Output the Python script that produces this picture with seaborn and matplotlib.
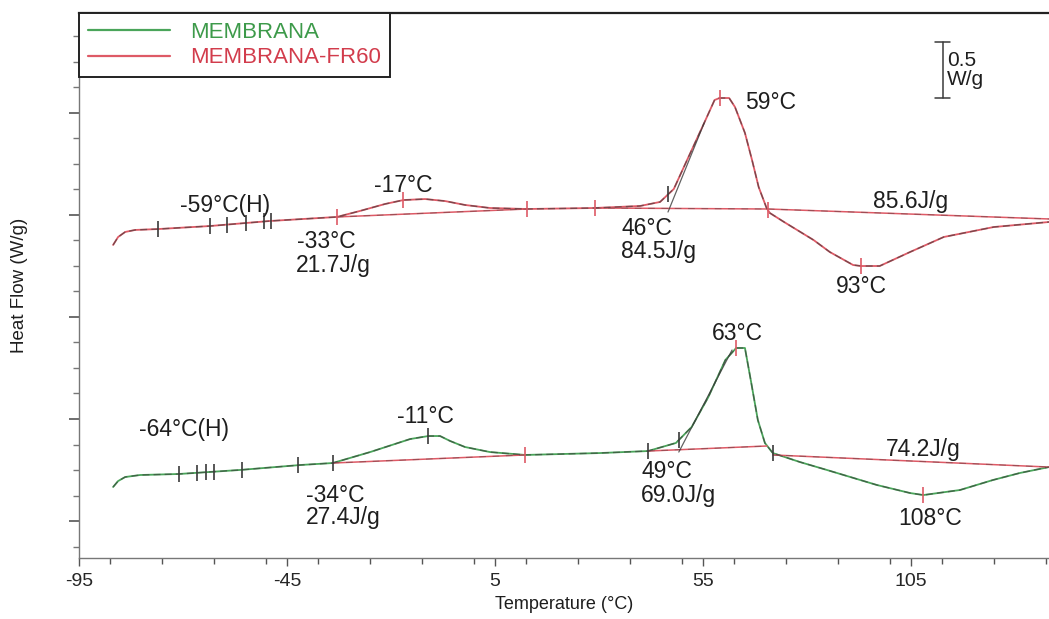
import numpy as np
import pandas as pd
import matplotlib
matplotlib.use("Agg")
import matplotlib.pyplot as plt
from matplotlib.ticker import MultipleLocator, FixedLocator
import seaborn as sns

# ---- DSC thermograms: temperature (°C) and heat flow (W/g, curves offset) ----
fr60_temp = [-86.8, -85.6, -83.9, -81.5, -76.0, -63.5, -49.1, -33.0, -27.5, -21.4,
             -17.0, -11.8, -7.0, -2.2, 3.8, 12.7, 29.0, 39.9, 44.7, 48.0,
             51.2, 55.3, 57.8, 59.0, 61.3, 62.7, 65.1, 66.8, 68.4, 70.3,
             71.1, 74.5, 81.6, 85.5, 91.1, 93.0, 97.5, 104.8, 112.9, 124.9, 138.2]
fr60_flow = [1.554, 1.625, 1.670, 1.688, 1.696, 1.723, 1.768, 1.804, 1.857, 1.920,
             1.955, 1.964, 1.946, 1.911, 1.884, 1.875, 1.884, 1.902, 1.938, 2.054,
             2.313, 2.643, 2.848, 2.866, 2.866, 2.786, 2.554, 2.313, 2.071, 1.884,
             1.839, 1.759, 1.598, 1.491, 1.375, 1.366, 1.366, 1.491, 1.625, 1.714, 1.759]

memb_temp = [-86.8, -85.6, -83.9, -80.3, -71.0, -56.3, -41.9, -34.0, -25.0, -15.4,
             -11.0, -8.2, -5.8, -2.2, 3.8, 12.2, 30.2, 41.8, 48.5, 52.3,
             56.3, 60.4, 63.0, 65.1, 66.5, 68.2, 69.9, 71.8, 78.3, 84.8,
             96.8, 104.8, 108.0, 116.8, 124.7, 131.2, 138.2]
memb_flow = [-0.607, -0.554, -0.518, -0.500, -0.491, -0.455, -0.411, -0.393, -0.295, -0.179,
             -0.152, -0.152, -0.196, -0.250, -0.295, -0.321, -0.304, -0.286, -0.214, -0.071,
             0.196, 0.527, 0.634, 0.634, 0.348, -0.009, -0.214, -0.304, -0.384, -0.455,
             -0.589, -0.661, -0.679, -0.634, -0.545, -0.482, -0.429]

# integration baselines and onset tangents: (T0, H0, T1, H1)
fr60_baselines = [(-33.0, 1.804, 12.7, 1.875), (29.0, 1.884, 70.6, 1.875),
                  (70.6, 1.875, 138.2, 1.786)]
fr60_tangent = (46.6, 1.848, 55.3, 2.643)
memb_baselines = [(-34.0, -0.393, 12.2, -0.321), (41.8, -0.286, 70.4, -0.241),
                  (71.8, -0.321, 138.2, -0.429)]
memb_tangent = (49.2, -0.295, 62.0, 0.616)

# analysis cursors placed on the curves
fr60_marks = [-76.0, -63.5, -59.4, -54.9, -50.5, -48.8, -33.0, -17.0, 12.7, 29.0, 46.6, 59.0, 70.6, 93.0]
memb_marks = [-71.0, -66.6, -64.5, -62.5, -55.8, -42.4, -34.0, -11.0, 12.2, 41.8, 49.2, 63.0, 71.8, 108.0]
fr60_mark_red = [False, False, False, False, False, False, True, True, True, True, False, True, True, True]
memb_mark_red = [False, False, False, False, False, False, False, False, True, False, False, True, False, True]

# annotations: text, temperature, heat flow
fr60_labels = ["-59°C(H)", "-33°C", "21.7J/g", "-17°C", "59°C", "46°C", "84.5J/g", "85.6J/g", "93°C"]
fr60_label_t = [-59.9, -35.6, -33.9, -17.1, 71.3, 41.5, 44.4, 104.8, 93.2]
fr60_label_h = [1.902, 1.589, 1.375, 2.089, 2.830, 1.705, 1.500, 1.938, 1.179]
memb_labels = ["-64°C(H)", "-11°C", "-34°C", "27.4J/g", "63°C", "49°C", "69.0J/g", "74.2J/g", "108°C"]
memb_label_t = [-69.8, -11.8, -33.5, -31.5, 63.2, 46.3, 49.0, 107.9, 109.6]
memb_label_h = [-0.098, 0.018, -0.679, -0.875, 0.759, -0.473, -0.679, -0.268, -0.884]

series_names = ["MEMBRANA", "MEMBRANA-FR60"]
scale_bar = 0.5  # W/g

GREEN = "#4aa55a"
GREEN_TXT = "#3d9a4a"
RED = "#de5a66"
RED_TXT = "#d23c4c"
DARK = "#3a3a3a"

sns.set_theme(style="white")
plt.rcParams["font.family"] = ["Liberation Sans", "DejaVu Sans"]
plt.rcParams["axes.unicode_minus"] = False

fig = plt.figure(figsize=(10.49, 6.19), dpi=100)
ax = fig.add_axes([79 / 1049, 61 / 619, 970 / 1049, 545 / 619])

df = pd.concat([
    pd.DataFrame({"T": memb_temp, "H": memb_flow, "sample": series_names[0]}),
    pd.DataFrame({"T": fr60_temp, "H": fr60_flow, "sample": series_names[1]}),
])
sns.lineplot(data=df, x="T", y="H", hue="sample", palette=[GREEN, RED],
             sort=False, estimator=None, linewidth=1.3, ax=ax, legend=True)

# dashed analysis overlay on each trace
for t, h in [(memb_temp, memb_flow), (fr60_temp, fr60_flow)]:
    ax.plot(t, h, color=DARK, lw=1.0, ls=(0, (5, 3)), alpha=0.6, zorder=3)

for bases, tan in [(fr60_baselines, fr60_tangent), (memb_baselines, memb_tangent)]:
    for t0, h0, t1, h1 in bases:
        ax.plot([t0, t1], [h0, h1], color=RED, lw=1.1, zorder=2)
        ax.plot([t0, t1], [h0, h1], color=DARK, lw=0.8, ls=(0, (6, 6)), alpha=0.4, zorder=2)
    ax.plot([tan[0], tan[2]], [tan[1], tan[3]], color=DARK, lw=0.9, alpha=0.8, zorder=3)

for temps, flows, marks, reds in [(fr60_temp, fr60_flow, fr60_marks, fr60_mark_red),
                                  (memb_temp, memb_flow, memb_marks, memb_mark_red)]:
    ys = np.interp(marks, temps, flows)
    for m, y, r in zip(marks, ys, reds):
        ax.plot([m], [y], marker="|", ms=11, mew=1.2,
                color=RED if r else DARK, zorder=4)

for labels, ts, hs in [(fr60_labels, fr60_label_t, fr60_label_h),
                       (memb_labels, memb_label_t, memb_label_h)]:
    for s, t, h in zip(labels, ts, hs):
        ax.text(t, h, s, fontsize=16.5, color="#1e1e1e", ha="center", va="center", zorder=5)

# 0.5 W/g scale bar
bar_t, bar_top = 112.7, 3.366
ax.plot([bar_t, bar_t], [bar_top - scale_bar, bar_top], color=DARK, lw=1.1)
for yy in (bar_top, bar_top - scale_bar):
    ax.plot([bar_t - 1.8, bar_t + 1.8], [yy, yy], color=DARK, lw=1.1)
ax.text(bar_t + 0.9, bar_top - scale_bar / 2, f"{scale_bar}\nW/g", fontsize=15,
        color="#1e1e1e", ha="left", va="center", linespacing=1.0)

ax.set_xlim(-95, 138.2)
ax.set_ylim(-1.241, 3.625)
ax.xaxis.set_major_locator(FixedLocator([-95, -45, 5, 55, 105]))
ax.xaxis.set_minor_locator(MultipleLocator(12.5))
ax.yaxis.set_major_locator(MultipleLocator(0.911))
ax.yaxis.set_minor_locator(MultipleLocator(0.22775))
ax.set_yticklabels([])
ax.tick_params(axis="x", which="major", direction="out", length=6, width=1,
               color="#555555", labelsize=14, pad=5, bottom=True)
ax.tick_params(axis="x", which="minor", direction="out", length=4, width=1,
               color="#555555", bottom=True)
ax.tick_params(axis="y", which="major", direction="out", length=7, width=1.2,
               color="#555555", left=True)
ax.tick_params(axis="y", which="minor", direction="out", length=4, width=1,
               color="#777777", left=True)

for side in ("left", "bottom"):
    ax.spines[side].set_color("#777777")
    ax.spines[side].set_linewidth(1.0)
ax.spines["top"].set_color("#222222")
ax.spines["top"].set_linewidth(1.6)
ax.spines["right"].set_visible(False)

ax.set_xlabel("Temperature (°C)", fontsize=13, color="#1e1e1e", labelpad=4)
ax.set_ylabel("Heat Flow (W/g)", fontsize=13.5, color="#1e1e1e", labelpad=26)

leg = ax.legend(loc="upper left", bbox_to_anchor=(0, 1), borderaxespad=0,
                frameon=True, fancybox=False, edgecolor="#222222", framealpha=1,
                fontsize=16, handlelength=3.7, handletextpad=0.9,
                borderpad=0.4, labelspacing=0.2, title=None)
leg.get_frame().set_linewidth(1.4)
for txt, col in zip(leg.get_texts(), [GREEN_TXT, RED_TXT]):
    txt.set_color(col)
for ln in leg.get_lines():
    ln.set_linewidth(1.6)

fig.savefig("out.png", dpi=100)
